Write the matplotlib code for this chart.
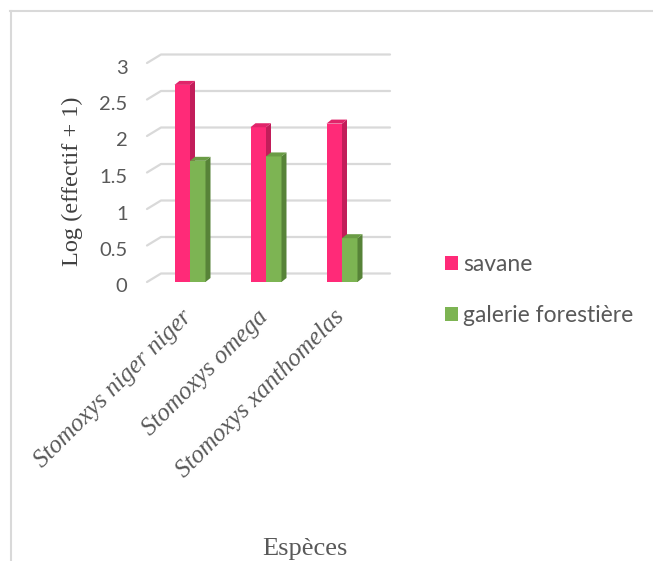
import matplotlib
matplotlib.use("Agg")
import matplotlib.pyplot as plt
from matplotlib.patches import Polygon, Patch
from matplotlib.lines import Line2D
import matplotlib.transforms as mtransforms
import numpy as np

# Data
especes = ["Stomoxys niger niger", "Stomoxys omega", "Stomoxys xanthomelas"]
savane = [2.70, 2.12, 2.17]
galerie = [1.66, 1.72, 0.60]
series_labels = ["savane", "galerie forestière"]
y_ticks = [0, 0.5, 1, 1.5, 2, 2.5, 3]
y_tick_labels = ["0", "0.5", "1", "1.5", "2", "2.5", "3"]

W, H, DPI = 653, 561, 100
fig = plt.figure(figsize=(W / DPI, H / DPI), dpi=DPI)
fig.patch.set_facecolor("white")

# chart frame (top and left edges)
fig.add_artist(Line2D([10 / W, 1], [1 - 11 / H, 1 - 11 / H], color="#d9d9d9", lw=1.5))
fig.add_artist(Line2D([11 / W, 11 / W], [0, 1 - 11 / H], color="#d9d9d9", lw=1.5))

# axes placed in pixel terms
ax_l, ax_r, ax_t, ax_b = 140, 400, 45, 290
ax = fig.add_axes([ax_l / W, 1 - ax_b / H, (ax_r - ax_l) / W, (ax_b - ax_t) / H])
px_x = 76.0   # pixels per category
px_y = 73.0   # pixels per unit
x0_px, y0_px = 190, 282
ax.set_xlim((ax_l - x0_px) / px_x, (ax_r - x0_px) / px_x)
ax.set_ylim(-(ax_b - y0_px) / px_y, (y0_px - ax_t) / px_y)
for s in ax.spines.values():
    s.set_visible(False)
ax.set_facecolor("none")

# back wall grid with a receding floor edge
gdx, gdy = 14 / px_x, 8.5 / px_y
gx_front = (147 - x0_px) / px_x
gx_end = (390 - x0_px) / px_x
grid_col = "#d9d9d9"
for v in y_ticks:
    ax.plot([gx_front, gx_front + gdx, gx_end], [v, v + gdy, v + gdy],
            color=grid_col, lw=1.6, solid_capstyle="round", zorder=1)

ax.set_yticks(y_ticks)
ax.set_yticklabels(y_tick_labels)
ax.tick_params(axis="y", length=0, pad=9, labelsize=14.5, labelcolor="#595959")
ax.set_xticks([])
shift = mtransforms.ScaledTranslation(0, -3.5 / DPI, fig.dpi_scale_trans)
for lab in ax.get_yticklabels():
    lab.set_fontfamily("Lato")
    lab.set_transform(lab.get_transform() + shift)

# bars with front, side and top faces
x = np.arange(len(especes))
bw = 15.5 / px_x
ddx, ddy = 5 / px_x, 4 / px_y
faces = {
    "savane": ("#ff2a78", "#c21d5a", "#e0246a"),
    "galerie": ("#7db453", "#578338", "#6a9c45"),
}


def draw_bars(left, vals, cols, z):
    front, side, top = cols
    bars = ax.bar(left, vals, width=bw, align="edge", color=front, lw=0, zorder=z)
    for xl, v in zip(left, vals):
        xr = xl + bw
        ax.add_patch(Polygon([(xr, 0), (xr + ddx, ddy), (xr + ddx, v + ddy), (xr, v)],
                             closed=True, fc=side, ec="none", zorder=z))
        ax.add_patch(Polygon([(xl, v), (xl + ddx, v + ddy), (xr + ddx, v + ddy), (xr, v)],
                             closed=True, fc=top, ec="none", zorder=z))
    return bars


b1 = draw_bars(x - bw, savane, faces["savane"], 3)
b2 = draw_bars(x, galerie, faces["galerie"], 4)

# category labels
for xi, name in zip(x, especes):
    ax.text(xi - 9 / px_x, -(306 - y0_px) / px_y, name, rotation=45,
            rotation_mode="anchor", ha="right", va="top", fontsize=18,
            fontfamily="Liberation Serif", style="italic", color="#595959",
            clip_on=False)

# axis titles
fig.text(72 / W, 1 - 181 / H, "Log (effectif + 1)", rotation=90, ha="center",
         va="center", fontsize=17.5, fontfamily="Liberation Serif", color="#404040")
fig.text(305 / W, 1 - 549 / H, "Espèces", ha="center", va="center",
         fontsize=19, fontfamily="Liberation Serif", color="#595959")

# legend
handles = [Patch(facecolor=faces["savane"][0]), Patch(facecolor=faces["galerie"][0])]
leg = fig.legend(handles, series_labels, loc="upper left",
                 bbox_to_anchor=(445 / W, 1 - 254 / H), frameon=False,
                 prop={"family": "Lato", "size": 16.5}, labelcolor="#595959",
                 handlelength=0.55, handleheight=0.55, handletextpad=0.25,
                 labelspacing=1.33, borderaxespad=0, borderpad=0)

fig.savefig("out.png", dpi=DPI, facecolor="white")
